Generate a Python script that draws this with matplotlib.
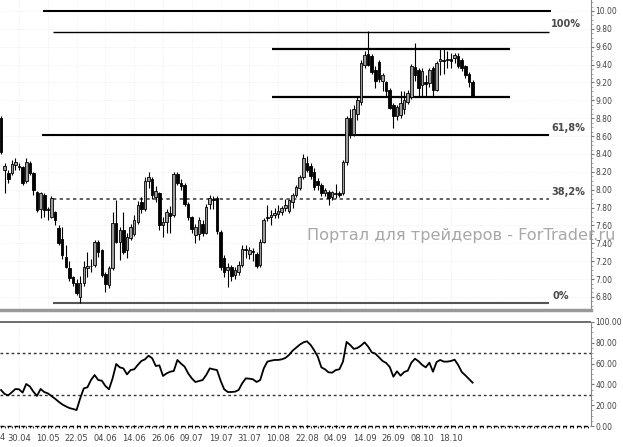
import numpy as np
import matplotlib
matplotlib.use("Agg")
import matplotlib.pyplot as plt
from matplotlib.ticker import MultipleLocator, FixedLocator, FormatStrFormatter

# daily candles
opens = [8.80, 8.22, 8.19, 8.19, 8.28, 8.27, 8.25, 8.10, 8.30, 8.19,
         7.98, 7.78, 7.94, 7.78, 7.70, 7.75, 7.57, 7.45, 7.25, 7.12,
         7.02, 6.96, 6.80, 6.96, 7.12, 7.15, 7.16, 7.42, 7.32, 7.06,
         6.93, 7.12, 7.63, 7.42, 7.55, 7.33, 7.46, 7.50, 7.64, 7.86,
         7.78, 8.10, 8.12, 7.92, 7.96, 7.60, 7.64, 7.74, 7.72, 8.18,
         8.08, 8.05, 7.84, 7.69, 7.49, 7.50, 7.62, 7.52, 7.84, 7.90,
         7.91, 7.53, 7.24, 7.10, 7.14, 7.05, 7.08, 7.16, 7.34, 7.28,
         7.31, 7.28, 7.16, 7.42, 7.68, 7.70, 7.72, 7.73, 7.75, 7.79,
         7.76, 7.86, 7.94, 8.02, 8.14, 8.30, 8.26, 8.20, 8.10, 8.05,
         7.96, 7.98, 7.92, 7.95, 7.96, 7.96, 8.31, 8.80, 8.62, 8.85,
         8.98, 9.40, 9.52, 9.50, 9.34, 9.43, 9.22, 9.20, 9.12, 8.95,
         8.82, 8.84, 8.90, 8.98, 9.04, 9.37, 9.34, 9.17, 9.20, 9.19,
         9.36, 9.12, 9.44, 9.45, 9.45, 9.46, 9.47, 9.50, 9.45, 9.38,
         9.30, 9.21]
highs = [8.82, 8.30, 8.22, 8.33, 8.36, 8.30, 8.27, 8.36, 8.32, 8.20,
         7.99, 7.98, 7.96, 7.81, 7.93, 7.76, 7.60, 7.58, 7.38, 7.20,
         7.04, 7.00, 7.03, 7.20, 7.30, 7.22, 7.44, 7.44, 7.34, 7.08,
         7.15, 7.75, 7.89, 7.58, 7.75, 7.52, 7.62, 7.72, 7.87, 7.92,
         8.14, 8.20, 8.14, 8.04, 7.98, 7.70, 7.78, 7.82, 8.20, 8.20,
         8.12, 8.07, 7.86, 7.71, 7.62, 7.70, 7.66, 7.84, 7.94, 7.93,
         7.93, 7.55, 7.27, 7.18, 7.16, 7.13, 7.20, 7.38, 7.38, 7.36,
         7.35, 7.30, 7.45, 7.68, 7.83, 7.77, 7.79, 7.83, 7.82, 7.90,
         7.90, 7.96, 8.05, 8.16, 8.40, 8.38, 8.30, 8.24, 8.13, 8.08,
         8.02, 8.00, 7.99, 8.06, 7.99, 8.33, 8.82, 8.90, 8.95, 9.05,
         9.45, 9.55, 9.78, 9.52, 9.38, 9.45, 9.31, 9.22, 9.14, 8.97,
         8.95, 9.10, 9.10, 9.12, 9.41, 9.64, 9.36, 9.36, 9.28, 9.36,
         9.38, 9.44, 9.57, 9.57, 9.55, 9.53, 9.53, 9.53, 9.47, 9.40,
         9.32, 9.23]
lows = [8.40, 7.96, 8.08, 8.16, 8.22, 8.22, 8.05, 8.08, 8.17, 7.94,
        7.75, 7.68, 7.69, 7.66, 7.68, 7.60, 7.38, 7.22, 7.12, 6.98,
        6.92, 6.82, 6.73, 6.92, 7.02, 7.08, 7.14, 7.25, 7.02, 6.86,
        6.90, 7.10, 7.40, 7.21, 7.28, 7.24, 7.44, 7.48, 7.62, 7.74,
        7.76, 8.02, 7.90, 7.86, 7.55, 7.47, 7.52, 7.52, 7.70, 8.05,
        8.00, 7.82, 7.66, 7.52, 7.40, 7.44, 7.48, 7.50, 7.78, 7.78,
        7.50, 7.10, 7.02, 6.91, 6.98, 7.00, 7.05, 7.14, 7.24, 7.22,
        7.20, 7.12, 7.14, 7.40, 7.65, 7.60, 7.68, 7.68, 7.72, 7.76,
        7.74, 7.80, 7.92, 8.00, 8.12, 8.20, 8.12, 8.00, 8.00, 7.93,
        7.93, 7.83, 7.88, 7.91, 7.92, 7.94, 8.28, 8.58, 8.60, 8.78,
        8.95, 9.36, 9.38, 9.30, 9.14, 9.20, 9.10, 9.05, 8.90, 8.69,
        8.78, 8.80, 8.85, 8.96, 9.02, 9.22, 9.05, 9.04, 9.04, 9.15,
        9.04, 9.10, 9.28, 9.30, 9.36, 9.36, 9.42, 9.36, 9.33, 9.25,
        9.15, 9.04]
closes = [8.42, 8.26, 8.12, 8.29, 8.31, 8.25, 8.08, 8.31, 8.19, 8.00,
          7.77, 7.96, 7.77, 7.77, 7.91, 7.66, 7.40, 7.27, 7.14, 7.01,
          6.96, 6.84, 6.96, 7.14, 7.15, 7.15, 7.42, 7.30, 7.05, 6.95,
          7.12, 7.63, 7.42, 7.55, 7.30, 7.47, 7.58, 7.66, 7.83, 7.78,
          8.10, 8.14, 7.94, 7.99, 7.60, 7.64, 7.75, 7.71, 8.18, 8.08,
          8.04, 7.84, 7.69, 7.56, 7.58, 7.66, 7.52, 7.81, 7.91, 7.88,
          7.54, 7.13, 7.08, 7.14, 7.03, 7.10, 7.16, 7.34, 7.33, 7.33,
          7.30, 7.15, 7.42, 7.66, 7.70, 7.72, 7.74, 7.76, 7.79, 7.83,
          7.88, 7.94, 8.03, 8.14, 8.36, 8.22, 8.15, 8.03, 8.05, 7.96,
          8.00, 7.91, 7.97, 7.96, 7.94, 8.31, 8.80, 8.62, 8.90, 9.00,
          9.42, 9.51, 9.40, 9.32, 9.22, 9.24, 9.28, 9.10, 8.92, 8.82,
          8.93, 8.97, 9.00, 9.08, 9.39, 9.28, 9.14, 9.33, 9.18, 9.34,
          9.12, 9.42, 9.46, 9.44, 9.46, 9.44, 9.51, 9.38, 9.36, 9.28,
          9.20, 9.05]

# oscillator under the price chart
osc = [34.6, 30.8, 29.5, 32.4, 35.6, 35.3, 32.1, 40.4, 38.1, 33.0,
       28.9, 35.6, 32.7, 31.4, 28.9, 26.3, 23.4, 20.8, 18.9, 17.3,
       16.3, 15.4, 26.6, 36.2, 37.2, 44.2, 49.0, 44.2, 43.6, 38.5,
       35.3, 45.8, 59.6, 56.4, 55.4, 49.6, 53.8, 54.5, 58.7, 62.5,
       64.1, 67.6, 65.1, 57.7, 58.3, 48.1, 50.6, 52.2, 52.9, 63.5,
       60.0, 57.1, 50.6, 45.8, 42.3, 43.3, 44.2, 49.0, 55.4, 54.5,
       53.8, 43.6, 35.3, 32.7, 32.7, 33.0, 34.6, 41.0, 45.8, 45.5,
       44.9, 42.3, 44.2, 55.4, 61.9, 62.8, 63.5, 63.5, 64.1, 65.4,
       68.3, 72.4, 75.3, 78.2, 80.4, 81.4, 78.0, 72.8, 66.7, 56.4,
       54.5, 51.6, 51.3, 53.8, 54.5, 61.9, 80.8, 77.9, 74.1, 75.0,
       77.3, 80.4, 76.3, 70.8, 69.6, 66.0, 62.5, 60.6, 56.7, 47.4,
       52.6, 48.4, 51.9, 53.2, 60.9, 64.7, 62.2, 58.7, 56.4, 60.9,
       52.2, 61.5, 63.5, 61.9, 61.9, 62.5, 63.8, 58.7, 51.9, 48.7,
       45.2, 41.7]
osc_levels = [30, 70]

date_labels = ["30.04", "10.05", "22.05", "04.06", "14.06", "26.06", "09.07",
               "19.07", "31.07", "10.08", "22.08", "04.09", "14.09", "26.09",
               "08.10", "18.10"]
first_label_idx = 5
label_step = 8

# fibonacci retracement and the drawn channel lines
fib_low, fib_high = 6.73, 9.77
fib_ratios = [0.0, 0.382, 0.618, 1.0]
fib_labels = ["0%", "38,2%", "61,8%", "100%"]
top_line = 10.00
channel = [9.57, 9.04]

W, H = 623, 447
fig = plt.figure(figsize=(W / 100, H / 100), dpi=100)
ax = fig.add_axes([0, (H - 310) / H, 591 / W, 310 / H])
ax2 = fig.add_axes([0, (H - 428) / H, 591 / W, (428 - 320) / H], sharex=ax)

o = np.array(opens)
c = np.array(closes)
x = np.arange(len(c))
up = c >= o

ax.vlines(x, lows, highs, color="black", lw=0.8, zorder=3)
ax.bar(x[up], (c - o)[up], bottom=o[up], width=0.72, color="#9c9c9c",
       edgecolor="black", lw=0.6, zorder=4)
ax.bar(x[~up], (o - c)[~up], bottom=c[~up], width=0.72, color="black",
       edgecolor="black", lw=0.6, zorder=4)

# level lines
ax.hlines(top_line, 11.7, 152.8, color="black", lw=1.5, zorder=2)
ax.hlines(channel, 75.3, 141.4, color="black", lw=1.6, zorder=2)
fib_prices = [fib_low + r * (fib_high - fib_low) for r in fib_ratios]
styles = {"0%": dict(color="#555555", lw=1.5, ls="-"),
          "38,2%": dict(color="#444444", lw=1.2, ls=(0, (2, 2))),
          "61,8%": dict(color="black", lw=1.5, ls="-"),
          "100%": dict(color="black", lw=1.0, ls="-")}
starts = {"0%": 14.4, "38,2%": 14.4, "61,8%": 11.4, "100%": 14.4}
for p, lab in zip(fib_prices, fib_labels):
    ax.hlines(p, starts[lab], 152.2, zorder=2, **styles[lab])
    ax.text(152.8 if lab != "0%" else 153.3, p + 0.03, lab, ha="left", va="bottom",
            fontsize=7, fontweight="bold", color="#4a4a4a")

ax.set_xlim(-0.28, 163.9)
ax.set_ylim(6.654, 10.123)
ax.yaxis.tick_right()
ax.yaxis.set_major_locator(MultipleLocator(0.2))
ax.yaxis.set_minor_locator(MultipleLocator(0.05))
ax.yaxis.set_major_formatter(FormatStrFormatter("%.2f"))
ax.tick_params(axis="y", which="major", length=2.5, labelsize=5.5, labelcolor="#444444",
               color="#777777", pad=0.8)
ax.tick_params(axis="y", which="minor", length=1.5, color="#999999")
ax.tick_params(axis="x", which="both", bottom=False, labelbottom=False)
for s in ["top", "left"]:
    ax.spines[s].set_visible(False)
ax.spines["right"].set_color("#888888")
ax.spines["bottom"].set_color("#999999")
ax.spines["bottom"].set_linewidth(2.5)

tick_pos = [first_label_idx + label_step * k for k in range(len(date_labels))]
ax2.xaxis.set_major_locator(FixedLocator(tick_pos))
ax2.xaxis.set_minor_locator(MultipleLocator(1))
ax2.set_xticklabels(date_labels)
ax.grid(which="major", color="#ebebeb", lw=0.6, ls=":", zorder=0)

# oscillator panel
ax2.plot(x, osc, color="black", lw=1.3, zorder=3)
ax2.hlines(osc_levels, -0.28, 163.9, color="#333333", lw=1.0, ls=(0, (2, 2)))
ax2.hlines(100, -0.28, 163.9, color="#555555", lw=1.2)
ax2.hlines(0, -0.28, 163.9, color="black", lw=1.0, ls=(0, (3, 2)))
ax2.set_ylim(-1.9, 101.9)
ax2.yaxis.tick_right()
ax2.yaxis.set_major_locator(MultipleLocator(20))
ax2.yaxis.set_minor_locator(MultipleLocator(5))
ax2.yaxis.set_major_formatter(FormatStrFormatter("%.2f"))
ax2.tick_params(axis="y", which="major", length=2.5, labelsize=5.5, labelcolor="#444444",
                color="#777777", pad=0.8)
ax2.tick_params(axis="y", which="minor", length=1.5, color="#999999")
ax2.tick_params(axis="x", which="major", length=2, direction="in", labelsize=6,
                labelcolor="#444444", pad=4)
ax2.tick_params(axis="x", which="minor", length=1.5, direction="in")
for s in ["top", "left", "bottom"]:
    ax2.spines[s].set_visible(False)
ax2.spines["right"].set_color("#888888")
ax2.spines["right"].set_bounds(0, 100)
ax2.grid(which="major", axis="x", color="#ebebeb", lw=0.6, ls=":", zorder=0)

fig.text(0.0, 1 - 438 / H, "4", ha="left", va="center", fontsize=6, color="#444444")
fig.text(307 / W, 1 - 235 / H, "Портал для трейдеров - ForTrader.ru", ha="left",
         va="center", fontsize=11.6, color="#a8a8a8", zorder=10)

fig.savefig("out.png", dpi=100)
